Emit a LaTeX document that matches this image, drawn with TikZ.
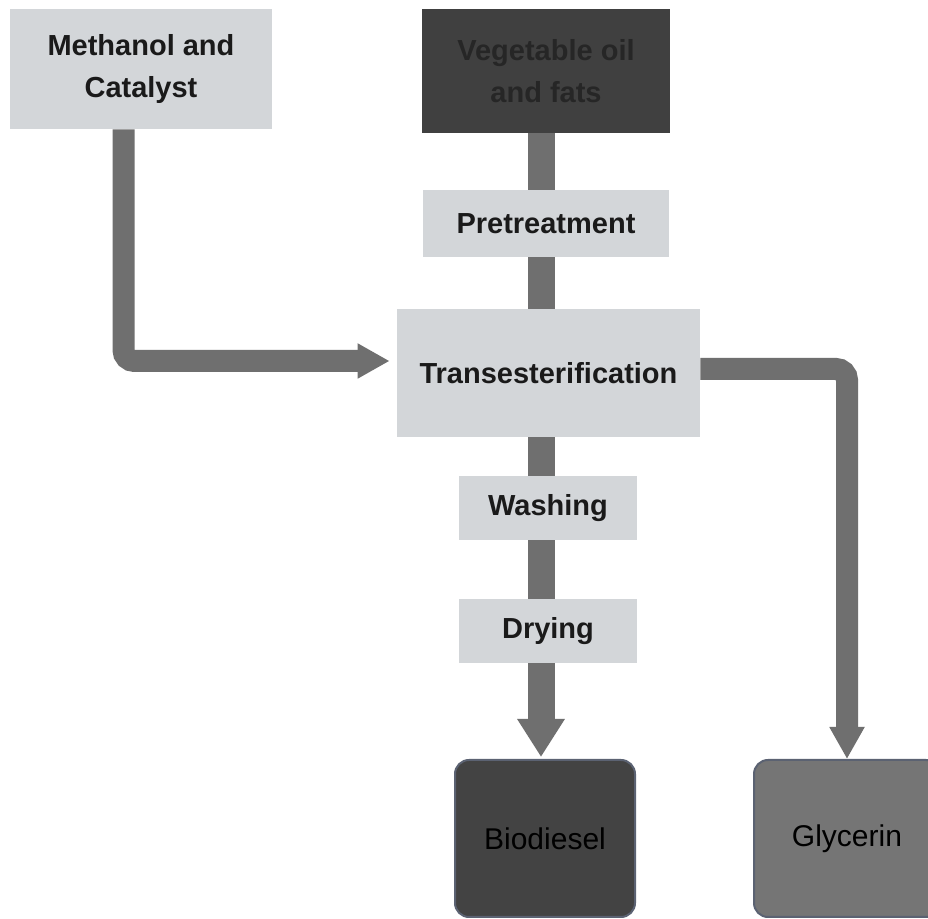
\documentclass[tikz,border=0pt]{standalone}
\usepackage{fontspec}
\setmainfont{Liberation Sans}
\usetikzlibrary{arrows.meta}

\definecolor{boxgray}{HTML}{D3D6D9}
\definecolor{oilgray}{HTML}{404040}
\definecolor{flowgray}{HTML}{6F6F6F}
\definecolor{biogray}{HTML}{434343}
\definecolor{glygray}{HTML}{757575}
\definecolor{edgeblue}{HTML}{5B6272}
\definecolor{inkdark}{HTML}{1A1A1A}

\begin{document}
\begin{tikzpicture}[x=0.5pt, y=-0.5pt,
    box/.style={fill=boxgray, text=inkdark, align=center, inner sep=0pt,
      font=\bfseries\fontsize{14.5}{21}\selectfont},
    oilbox/.style={box, fill=oilgray, text=black!85},
    endbox/.style={draw=edgeblue, line width=1pt, rounded corners=7pt, text=black,
      inner sep=0pt, minimum width=90pt, minimum height=78.5pt,
      font=\fontsize{15}{18}\selectfont},
    bar/.style={draw=flowgray, line width=13.5pt},
    mainarrow/.style={bar, -{Triangle[width=22.5pt, length=19pt]}, shorten >=1pt},
    sidearrow/.style={draw=flowgray, line width=11pt, rounded corners=5.5pt,
      -{Triangle[width=16.5pt, length=16pt]}}]
  \clip (0,0) rectangle (928,919);
  \fill[white] (0,0) rectangle (928,919);
  \coordinate (axis) at (541,0);

  \node[box, minimum width=131pt, minimum height=60pt] (meth) at (141,69) {Methanol and\\Catalyst};
  \node[oilbox, minimum width=124pt, minimum height=62pt] (veg) at (546,71) {Vegetable oil\\and fats};
  \node[box, minimum width=123pt, minimum height=33.5pt] (pre) at (546,223.5) {Pretreatment};
  \node[box, minimum width=151.5pt, minimum height=64pt] (trans) at (548.5,373) {Transesterification};
  \node[box, minimum width=89pt, minimum height=32pt] (wash) at (548,508) {Washing};
  \node[box, minimum width=89pt, minimum height=32pt] (dry) at (548,631) {Drying};
  \node[endbox, fill=biogray] (bio) at (545,838.5) {Biodiesel};
  \node[endbox, fill=glygray, minimum width=93pt] (gly) at (847,838.5) {Glycerin};

  % main line
  \draw[bar] (veg.south -| axis) -- (pre.north -| axis);
  \draw[bar] (pre.south -| axis) -- (trans.north -| axis);
  \draw[bar] (trans.south -| axis) -- (wash.north -| axis);
  \draw[bar] (wash.south -| axis) -- (dry.north -| axis);
  \draw[mainarrow] (dry.south -| axis) -- (bio.north -| axis);

  % side streams
  \draw[sidearrow] ([xshift=-8.75pt]meth.south) |- ([xshift=-3.5pt, yshift=6pt]trans.west);
  \draw[sidearrow] ([yshift=2pt]trans.east) -| (gly.north);
\end{tikzpicture}
\end{document}
